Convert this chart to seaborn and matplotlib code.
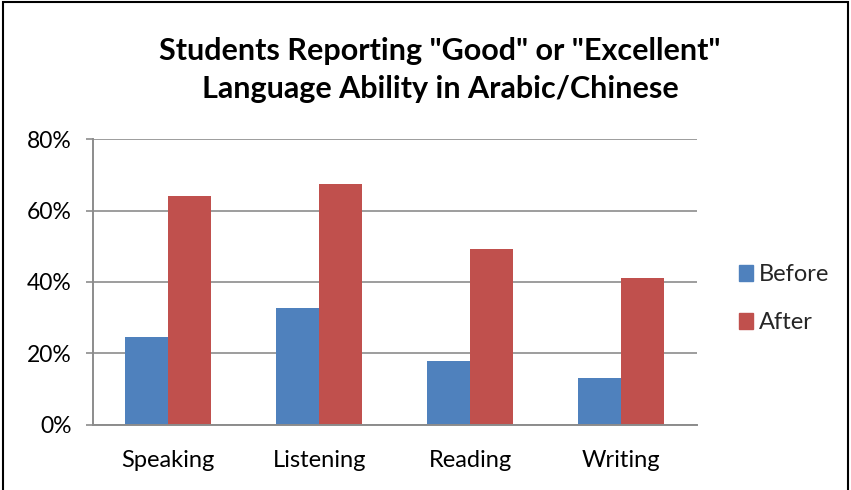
import matplotlib
matplotlib.use("Agg")
import matplotlib.pyplot as plt
import seaborn as sns
import pandas as pd
from matplotlib.patches import Rectangle, Patch

categories = ["Speaking", "Listening", "Reading", "Writing"]
before = [24.5, 32.6, 18.0, 13.0]
after = [64.0, 67.4, 49.2, 41.0]
series = ["Before", "After"]
yticks = [0, 20, 40, 60, 80]
ytick_labels = ["0%", "20%", "40%", "60%", "80%"]

df = pd.DataFrame({
    "Skill": categories * 2,
    "Value": before + after,
    "Series": ["Before"] * len(categories) + ["After"] * len(categories),
})

sns.set_style("white")
plt.rcParams['font.family'] = ['Lato', 'DejaVu Sans']

fig = plt.figure(figsize=(8.51, 4.90), dpi=100)
ax = fig.add_axes([0.109, 0.133, 0.710, 0.583])
colors = {"Before": "#4F81BD", "After": "#C0504D"}
sns.barplot(data=df, x="Skill", y="Value", hue="Series", hue_order=series,
            palette=colors, width=0.57, gap=0, ax=ax, saturation=1,
            edgecolor="none", legend=False)

ax.set_ylim(0, 80)
ax.set_yticks(yticks)
ax.set_yticklabels(ytick_labels)
ax.set_xlim(-0.5, 3.5)
ax.grid(axis="y", color="#8c8c8c", linewidth=1.2)
ax.set_axisbelow(True)
for s in ["top", "right"]:
    ax.spines[s].set_visible(False)
for s in ["left", "bottom"]:
    ax.spines[s].set_color("#8c8c8c")
    ax.spines[s].set_linewidth(1.4)
ax.set_xlabel("")
ax.set_ylabel("")
ax.tick_params(axis="y", length=5, color="#8c8c8c", width=1.2, pad=10,
               labelsize=16.5, labelcolor="black")
ax.tick_params(axis="x", length=0, pad=18, labelsize=17, labelcolor="black")
ax.tick_params(left=True)

fig.text(0.517, 0.895, 'Students Reporting "Good" or "Excellent"',
         ha="center", va="center", fontsize=22, fontweight="bold", color="black")
fig.text(0.517, 0.818, 'Language Ability in Arabic/Chinese',
         ha="center", va="center", fontsize=22, fontweight="bold", color="black")

handles = [Patch(color=colors[s], label=s) for s in series]
fig.legend(handles=handles, loc="center left", bbox_to_anchor=(0.843, 0.39),
           frameon=False, fontsize=17, handlelength=0.6, handleheight=0.7,
           handletextpad=0.25, labelspacing=1.15)

fig.patches.append(Rectangle((0.004, -0.01), 0.993, 1.006, transform=fig.transFigure,
                             fill=False, edgecolor="black", linewidth=1.5))

fig.savefig("out.png", dpi=100)
